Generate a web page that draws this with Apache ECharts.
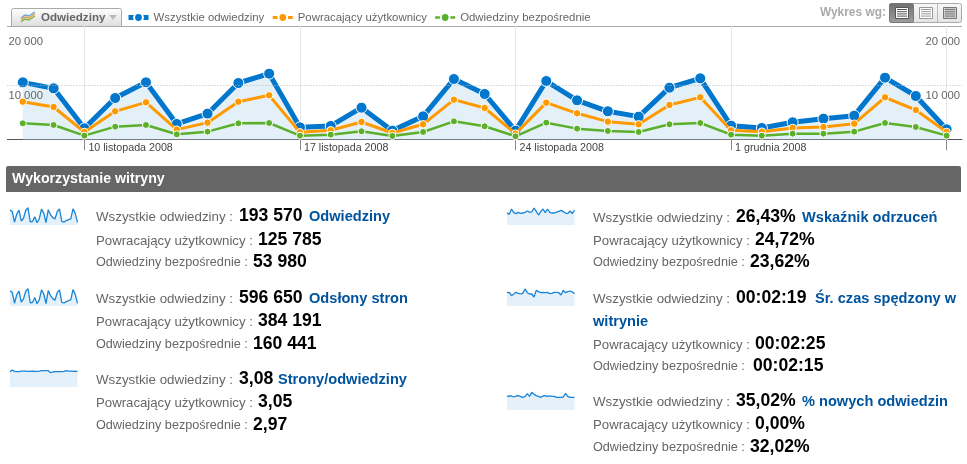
<!DOCTYPE html>
<html><head><meta charset="utf-8">
<style>html,body{margin:0;padding:0;background:#fff}#c{width:967px;height:464px}</style>
<script src="https://cdn.jsdelivr.net/npm/echarts@6/dist/echarts.min.js"></script>
</head><body><div id="c"></div>
<script>
const FONT='"Liberation Sans",Arial,sans-serif';
const days=['8 listopada 2008','9 listopada 2008','10 listopada 2008','11 listopada 2008','12 listopada 2008','13 listopada 2008','14 listopada 2008','15 listopada 2008','16 listopada 2008','17 listopada 2008','18 listopada 2008','19 listopada 2008','20 listopada 2008','21 listopada 2008','22 listopada 2008','23 listopada 2008','24 listopada 2008','25 listopada 2008','26 listopada 2008','27 listopada 2008','28 listopada 2008','29 listopada 2008','30 listopada 2008','1 grudnia 2008','2 grudnia 2008','3 grudnia 2008','4 grudnia 2008','5 grudnia 2008','6 grudnia 2008','7 grudnia 2008','8 grudnia 2008'];
const tickIdx=[2,9,16,23,30];
const labelIdx=[2,9,16,23];
const wszystkie=[10555,9444,2037,7654,10555,2840,4753,10432,12160,2222,2470,5864,1605,4259,11173,8395,1605,10802,7222,5185,4198,9568,11296,2531,2099,3148,3827,4383,11420,8025,1852];
const powracajacy=[6975,5988,1358,5185,6852,1790,3086,6975,8148,1296,1667,3210,1173,2778,7346,5802,1049,6790,4815,3272,2778,6358,7778,1667,1420,2099,2284,2901,7778,5432,1358];
const bezposrednie=[2963,2654,679,2346,2654,926,1420,2963,3025,679,864,1481,617,1358,3333,2407,556,3086,1975,1543,1358,2778,3025,864,679,1049,1049,1420,3025,2284,679];
const odslony=[33000,29500,6000,24500,32500,8500,15500,32000,37500,7000,7500,18500,5000,13000,35000,26000,5000,33500,22500,16000,12500,29500,35000,8000,6500,9500,11500,13500,35500,25000,5500];
const stronyNaOdw=[3.01,3.34,3.08,3.01,3.01,3.14,3.14,3.14,3.08,3.08,3.14,3.08,3.08,3.14,3.21,3.21,3.21,3.21,2.82,2.95,3.01,3.01,3.01,3.01,3.08,3.21,3.14,3.14,3.08,3.14,3.01];
const odrzucenia=[26.4,22.8,34.3,26.4,24.3,27.1,25,25.7,27.1,30,27.8,27.8,36.4,29.2,21.4,28.6,34.3,26.4,34.3,27.1,25.7,25.7,27.8,29.2,31.4,28.6,25.7,24.3,30,24.3,32.1];
const czas=[142,146,110,128,146,135,128,135,182,142,128,128,96,167,153,142,146,142,146,132,135,146,146,142,117,167,142,153,160,150,132];
const nowe=[35,36.8,36.8,34.1,36.8,37.6,35.9,33.3,35,42.9,35.9,46.4,41.1,37.6,35.9,33.3,36.8,37.6,35.9,36.8,35.9,35.9,33.3,33.3,33.3,34.1,43.8,35.9,33.3,33.3,33.3];
const sparks=[
 {v:wszystkie,max:12700,x:10,y:207},{v:odslony,max:39000,x:10,y:288},{v:stronyNaOdw,max:3.54,x:10,y:369},
 {v:odrzucenia,max:38.6,x:507,y:207},{v:czas,max:192,x:507,y:288},{v:nowe,max:47.25,x:507,y:392}];
const L1='Wszystkie odwiedziny :',L2='Powracający użytkownicy :',L3='Odwiedziny bezpośrednie :';
const N1='Wszystkie odwiedziny',N2='Powracający użytkownicy',N3='Odwiedziny bezpośrednie';
const statRows=[
 [96,217,L1,'193 570','Odwiedziny',309],[96,241,L2,'125 785'],[96,263,L3,'53 980'],
 [96,299,L1,'596 650','Odsłony stron',309],[96,322,L2,'384 191'],[96,345,L3,'160 441'],
 [96,380,L1,'3,08','Strony/odwiedziny',278],[96,403,L2,'3,05'],[96,426,L3,'2,97'],
 [593,218,L1,'26,43%','Wskaźnik odrzuceń',802],[593,241,L2,'24,72%'],[593,263,L3,'23,62%'],
 [593,299,L1,'00:02:19','Śr. czas spędzony w',815],[593,345,L2,'00:02:25'],[593,367,L3,'00:02:15'],
 [593,402,L1,'35,02%','% nowych odwiedzin',802],[593,425,L2,'0,00%'],[593,448,L3,'32,02%']];
const numOffset={[L1]:143,[L2]:162,[L3]:157};
const labSize={[L1]:13.33,[L2]:13.2,[L3]:12.65};

function txt(x,y,text,size,fill,weight,align){return {type:'text',x,y,silent:true,style:{text,fontSize:size,fontFamily:FONT,fontWeight:weight||'normal',fill,verticalAlign:'middle',align:align||'left'}};}
function rect(x,y,w,h,fill,stroke,r){return {type:'rect',silent:true,shape:{x,y,width:w,height:h,r:r||0},style:{fill,stroke:stroke||null,lineWidth:1}};}
function line(x1,y1,x2,y2,stroke){return {type:'line',silent:true,shape:{x1,y1,x2,y2},style:{stroke,lineWidth:1}};}
function poly(points,stroke){return {type:'polyline',silent:true,shape:{points},style:{stroke,fill:null,lineWidth:1.5}};}
const vg=(a,b)=>({type:'linear',x:0,y:0,x2:0,y2:1,colorStops:[{offset:0,color:a},{offset:1,color:b}]});

const g=[];
g.push(rect(6,166,955,26,'#666666',null,[2,2,0,0]));
g.push(txt(12,179.5,'Wykorzystanie witryny',14.2,'#fff','bold'));
g.push(line(7,26.5,962,26.5,'#aaaaaa'));
g.push(rect(11.5,8.5,110,18,vg('#ffffff','#dddddd'),'#aaaaaa',[2,2,0,0]));
g.push(poly([[21,20],[25,17],[29,18],[35,14]],'#e8a33c'));
g.push(poly([[21,18],[25,15],[29,16],[35,12]],'#6aa6d8'));
g.push(poly([[21,22],[25,19],[29,20],[35,16]],'#7fb55a'));
g.push(txt(41,17.5,'Odwiedziny',11.6,'#666666','bold'));
g.push({type:'polygon',silent:true,shape:{points:[[109,15],[117,15],[113,20]]},style:{fill:'#bbbbbb'}});
g.push(txt(820,12.5,'Wykres wg:',11.9,'#aaaaaa','bold'));
g.push(rect(889.5,3.5,72,19,vg('#f8f8f8','#e4e4e4'),'#aaaaaa',2));
g.push(rect(889.5,3.5,24,19,vg('#6e6e6e','#a0a0a0'),'#777777',2));
g.push(line(937.5,4,937.5,22,'#bbbbbb'));
[[895,'#ffffff','#555555'],[919,'#ffffff','#999999'],[943,'#cccccc','#777777']].forEach(([x,f,s])=>{
  g.push(rect(x+.5,7.5,13,11,f,s));
  for(let i=0;i<4;i++) g.push(line(x+2,9.5+i*2.2,x+12,9.5+i*2.2,s));
});
statRows.forEach(([x,y,lab,num,name,nx])=>{
  g.push(txt(x,y,lab,labSize[lab],'#666666'));
  const dx=(num==='00:02:15')?3:0;
  g.push(txt(x+numOffset[lab]+dx,y-1,num,17.6,'#000000','bold'));
  if(name) g.push(txt(nx,y,name,14.6,'#00539c','bold'));
});
g.push(txt(593,322,'witrynie',14.6,'#00539c','bold'));

const grids=[{left:7.4,top:26,width:954.6,height:113.3}];
const xAxes=[{type:'category',data:days,gridIndex:0,boundaryGap:true,
 axisLine:{lineStyle:{color:'#555555',width:1}},
 axisTick:{show:true,alignWithLabel:true,length:11,lineStyle:{color:'#888888'},interval:i=>tickIdx.includes(i)},
 axisLabel:{interval:i=>labelIdx.includes(i),align:'left',margin:3,padding:[0,0,0,4],fontSize:10.7,fontFamily:FONT,color:'#444444'},
 splitLine:{show:true,alignWithLabel:true,interval:i=>tickIdx.includes(i),lineStyle:{color:'#e6e6e6'}}}];
const lab=v=>v===10000?'10 000':v===20000?'20 000':'';
const yLabel={inside:true,verticalAlign:'top',padding:[5,0,0,0],fontSize:11.3,fontFamily:FONT,color:'#666666',formatter:lab};
const yAxes=[
 {type:'value',gridIndex:0,z:20,min:0,max:21000,interval:10000,position:'left',axisLine:{show:false},axisTick:{show:false},splitLine:{show:false},axisLabel:{...yLabel,margin:1}},
 {type:'value',gridIndex:0,z:20,min:0,max:21000,interval:10000,position:'right',axisLine:{show:false},axisTick:{show:false},splitLine:{show:false},axisLabel:{...yLabel,margin:2}}];
function main(name,data,color,w,sym,extra){return Object.assign({name,type:'line',data,xAxisIndex:0,yAxisIndex:0,symbol:'circle',symbolSize:sym,showSymbol:true,lineStyle:{color,width:w},itemStyle:{color,borderColor:'#fff',borderWidth:1},silent:true},extra||{});}
const series=[
 main(N1,wszystkie,'#0077cc',5,11,{areaStyle:{color:'#e4f0f8',opacity:1},z:2,
   markLine:{silent:true,symbol:'none',label:{show:false},lineStyle:{color:'#bbbbbb',type:[1,2],width:1},data:[{yAxis:10000}]}}),
 main(N2,powracajacy,'#ff9900',3,7.5,{z:3}),
 main(N3,bezposrednie,'#5aaf2b',2.5,7,{z:4}),
 main('',[],'#fff',1,1,{yAxisIndex:1})];
sparks.forEach((s,i)=>{
  grids.push({left:s.x,top:s.y,width:67.5,height:18});
  xAxes.push({type:'category',gridIndex:i+1,show:false,boundaryGap:false,data:days});
  yAxes.push({type:'value',gridIndex:i+1,show:false,min:0,max:s.max});
  series.push({type:'line',name:'s'+i,xAxisIndex:i+1,yAxisIndex:i+2,data:s.v,symbol:'none',silent:true,lineStyle:{color:'#1a85d6',width:1.3},areaStyle:{color:'#e4f0fa',opacity:1}});
});
const chart=echarts.init(document.getElementById('c'));
chart.setOption({animation:false,backgroundColor:'#fff',
 legend:{data:[N1,N2,N3],left:126,top:12,itemWidth:20,itemHeight:11,itemGap:7,padding:0,lineStyle:{width:'inherit'},textStyle:{fontFamily:FONT,fontSize:11.4,color:'#666666'}},
 grid:grids,xAxis:xAxes,yAxis:yAxes,series,graphic:g});
</script></body></html>
